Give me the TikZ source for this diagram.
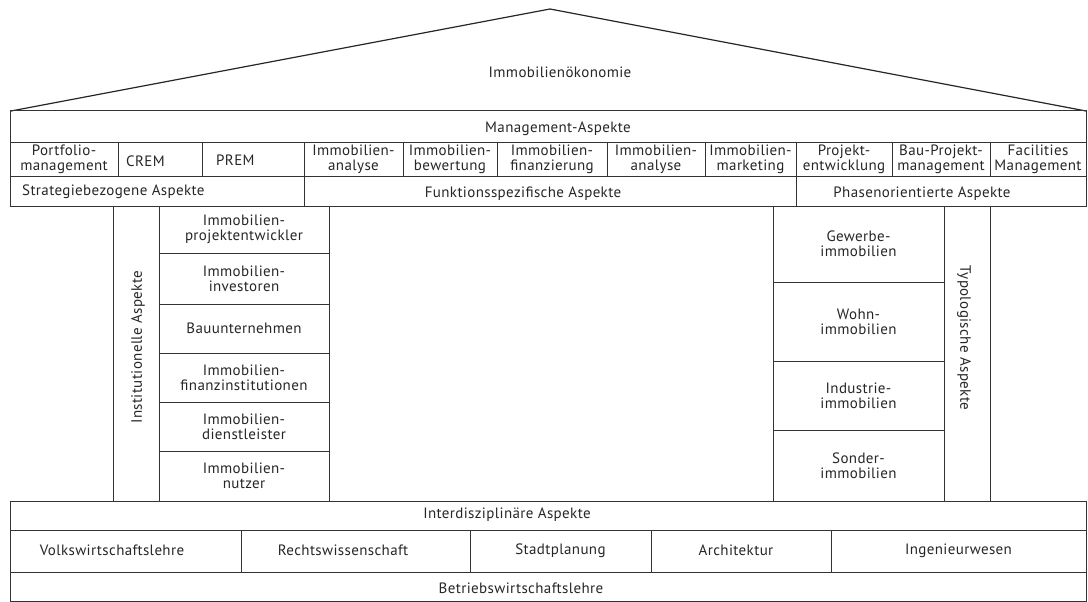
\documentclass[tikz,border=0pt]{standalone}
\usepackage{fontspec}
\setmainfont[LetterSpace=2.5]{PT Sans}
\usepackage{tikz}
\usetikzlibrary{positioning}

\newcommand{\cellfont}{\fontsize{15}{15}\selectfont}

\begin{document}
\begin{tikzpicture}[
  x=1pt, y=-1pt,
  node distance=0pt,
  cell/.style={rectangle, draw=black!80, line width=1pt, outer sep=0pt, inner sep=0pt, anchor=north west, align=center, font=\cellfont, text=black!85},
  pillar/.style={cell, anchor=north, node distance=0pt},
  roofline/.style={draw=black!85, line width=1.2pt, line join=miter},
  txt/.style={inner sep=0pt, font=\cellfont, text=black!85},
]
  \useasboundingbox (0,0) rectangle (1088,602);

  % Dach
  \coordinate (eaveL) at (11,111);
  \coordinate (apex) at (550,9);
  \coordinate (eaveR) at (1086,111);
  \draw[roofline] (eaveL) -- (apex) -- (eaveR);
  \node[txt] (oekonomie) at (560,72) {Immobilienökonomie};

  % Management-Aspekte
  \node[cell, minimum width=1076, minimum height=31] (mgmt) at (10,111) {};
  \node[txt] (mgmt-t) at (558,129) {Management-Aspekte};
  \node[cell, minimum width=108, minimum height=34] (portfolio) at (10,142) {Portfolio-\\management};
  \node[cell, minimum width=84, minimum height=34] (crem) at (118,142) {};
  \node[txt, anchor=west] (crem-t) at (126,161) {CREM};
  \node[cell, minimum width=102, minimum height=34] (prem) at (202,142) {};
  \node[txt, anchor=west] (prem-t) at (216,160) {PREM};
  \node[cell, minimum width=99, minimum height=34] (analyse) at (304,142) {Immobilien-\\analyse};
  \node[cell, minimum width=94, minimum height=34] (bewertung) at (403,142) {Immobilien-\\bewertung};
  \node[cell, minimum width=110, minimum height=34] (finanzierung) at (497,142) {Immobilien-\\finanzierung};
  \node[cell, minimum width=98, minimum height=34] (analyse2) at (607,142) {Immobilien-\\analyse};
  \node[cell, minimum width=91, minimum height=34] (marketing) at (705,142) {Immobilien-\\marketing};
  \node[cell, minimum width=96, minimum height=34] (projekt) at (796,142) {Projekt-\\entwicklung};
  \node[cell, minimum width=98, minimum height=34] (bauprojekt) at (892,142) {Bau-Projekt-\\management};
  \node[cell, minimum width=96, minimum height=34] (facilities) at (990,142) {Facilities\\Management};

  \node[cell, minimum width=294, minimum height=30] (strategie) at (10,176) {};
  \node[txt, anchor=west] (strategie-t) at (22,192) {Strategiebezogene Aspekte};
  \node[cell, minimum width=492, minimum height=30] (funktion) at (304,176) {};
  \node[txt] (funktion-t) at (523,194) {Funktionsspezifische Aspekte};
  \node[cell, minimum width=290, minimum height=30] (phase) at (796,176) {};
  \node[txt] (phase-t) at (922,194) {Phasenorientierte Aspekte};

  % linke Saeule
  \node[cell, minimum width=46, minimum height=295] (institut) at (113,206) {};
  \node[txt, rotate=90] (institut-t) at (138,347) {Institutionelle Aspekte};
  \node[cell, minimum width=170, minimum height=47] (entwickler) at (159,206) {Immobilien-\\projektentwickler};
  \node[pillar, minimum width=170, minimum height=51, below=of entwickler] (investoren) {Immobilien-\\investoren};
  \node[pillar, minimum width=170, minimum height=49, below=of investoren] (bau) {Bauunternehmen};
  \node[pillar, minimum width=170, minimum height=49, below=of bau] (finanz) {Immobilien-\\finanzinstitutionen};
  \node[pillar, minimum width=170, minimum height=49, below=of finanz] (dienst) {Immobilien-\\dienstleister};
  \node[pillar, minimum width=170, minimum height=50, below=of dienst] (nutzer) {Immobilien-\\nutzer};

  % rechte Saeule
  \node[cell, minimum width=171, minimum height=76] (gewerbe) at (773,206) {Gewerbe-\\immobilien};
  \node[pillar, minimum width=171, minimum height=79, below=of gewerbe] (wohn) {Wohn-\\immobilien};
  \node[pillar, minimum width=171, minimum height=69, below=of wohn] (industrie) {Industrie-\\immobilien};
  \node[pillar, minimum width=171, minimum height=71, below=of industrie] (sonder) {Sonder-\\immobilien};
  \node[cell, minimum width=46, minimum height=295] (typolog) at (944,206) {};
  \node[txt, rotate=-90] (typolog-t) at (964,338) {Typologische Aspekte};

  % Fundament
  \node[cell, minimum width=1076, minimum height=29] (inter) at (10,501) {};
  \node[txt] (inter-t) at (507,515) {Interdisziplinäre Aspekte};
  \node[cell, minimum width=231, minimum height=42] (vwl) at (10,530) {};
  \node[txt] (vwl-t) at (112,550) {Volkswirtschaftslehre};
  \node[cell, minimum width=229, minimum height=42] (recht) at (241,530) {};
  \node[txt] (recht-t) at (343,550) {Rechtswissenschaft};
  \node[cell, minimum width=181, minimum height=42] (stadt) at (470,530) {Stadtplanung};
  \node[cell, minimum width=180, minimum height=42] (archi) at (651,530) {};
  \node[txt] (archi-t) at (736,550) {Architektur};
  \node[cell, minimum width=255, minimum height=42] (ingenieur) at (831,530) {Ingenieurwesen};
  \node[cell, minimum width=1076, minimum height=29] (bwl) at (10,572) {};
  \node[txt] (bwl-t) at (521,588) {Betriebswirtschaftslehre};
\end{tikzpicture}
\end{document}
